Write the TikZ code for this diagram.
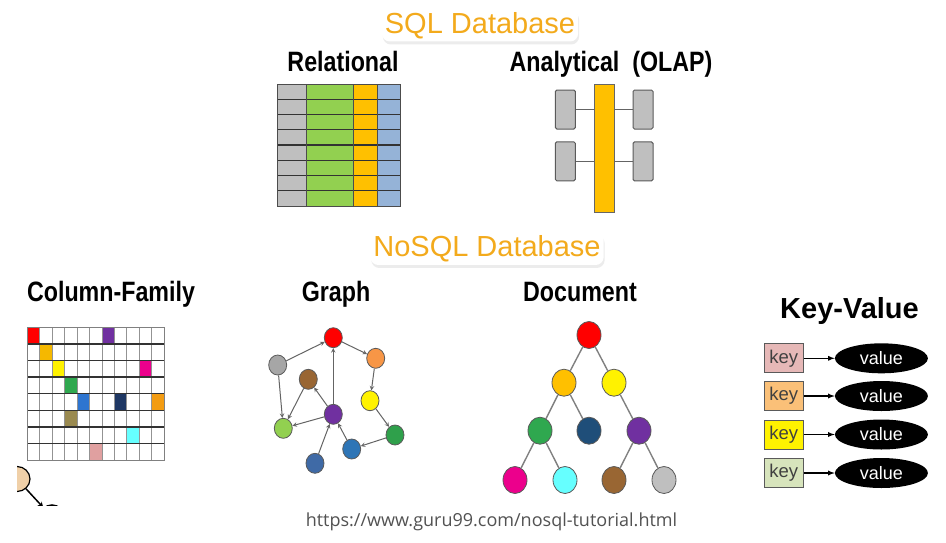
\documentclass[tikz,border=0pt]{standalone}
\usepackage{fontspec}
\setmainfont{Liberation Sans}
\newfontfamily\urlfont{Open Sans}
\usepackage{tikz}
\usetikzlibrary{shapes.geometric, arrows, positioning, shadows}
\usepackage{xcolor}
\definecolor{titleorange}{RGB}{243, 170, 28}
\definecolor{relgray}{RGB}{191, 191, 191}
\definecolor{relgreen}{RGB}{146, 208, 80}
\definecolor{relorange}{RGB}{255, 192, 0}
\definecolor{relblue}{RGB}{149, 179, 215}
\definecolor{edgegray}{RGB}{100, 100, 100}
\definecolor{nodeline}{RGB}{90, 90, 90}
\definecolor{cfpurple}{RGB}{112, 48, 160}
\definecolor{cforange}{RGB}{245, 184, 0}
\definecolor{cfgreen}{RGB}{47, 168, 79}
\definecolor{cfblue}{RGB}{46, 117, 208}
\definecolor{cfnavy}{RGB}{31, 56, 100}
\definecolor{cfamber}{RGB}{243, 156, 18}
\definecolor{cfolive}{RGB}{154, 138, 80}
\definecolor{cfcyan}{RGB}{102, 255, 255}
\definecolor{cfpink}{RGB}{224, 160, 160}
\definecolor{grorange}{RGB}{247, 150, 70}
\definecolor{grgray}{RGB}{166, 166, 166}
\definecolor{grbrown}{RGB}{153, 102, 51}
\definecolor{grlime}{RGB}{146, 208, 80}
\definecolor{grgreen}{RGB}{47, 160, 75}
\definecolor{grblue}{RGB}{46, 117, 182}
\definecolor{grsteel}{RGB}{63, 106, 166}
\definecolor{docnavy}{RGB}{31, 78, 121}
\definecolor{keypink}{RGB}{230, 184, 183}
\definecolor{keyorange}{RGB}{250, 192, 120}
\definecolor{keygreen}{RGB}{215, 228, 188}
\definecolor{skintan}{RGB}{240, 208, 168}

\begin{document}
\begin{tikzpicture}[x=1pt, y=-1pt]
    \tikzstyle{banner} = [font=\fontsize{29}{31}\selectfont, text=titleorange, fill=white, rounded corners=8pt, inner sep=3pt, anchor=base, drop shadow={opacity=0.15, shadow xshift=1pt, shadow yshift=-3pt}]
    \tikzstyle{heading} = [font=\fontsize{28}{30}\selectfont\bfseries, xscale=0.83, anchor=base, inner sep=0pt]
    \tikzstyle{gnode} = [ellipse, draw=nodeline, line width=0.8pt, minimum width=18pt, minimum height=20pt, inner sep=0pt]
    \tikzstyle{dnode} = [ellipse, draw=nodeline, line width=0.8pt, minimum width=24pt, minimum height=27pt, inner sep=0pt]
    \tikzstyle{garrow} = [draw=edgegray, line width=1pt, ->, >=stealth]
    \tikzstyle{dline} = [draw=gray, line width=1.4pt]
    \tikzstyle{keybox} = [rectangle, draw=nodeline, line width=1pt, minimum width=39pt, minimum height=29pt, inner sep=0pt, text=black!75, font=\fontsize{18.5}{19}\selectfont]
    \tikzstyle{valblob} = [ellipse, fill=black, minimum width=93pt, minimum height=30pt, inner sep=0pt, text=white, font=\fontsize{18}{19}\selectfont]
    \tikzstyle{kvarrow} = [line width=1.3pt, ->, >=latex]
    \tikzstyle{olapbox} = [rectangle, rounded corners=1.5pt, draw=nodeline, fill=relgray, line width=1pt, minimum width=20pt, minimum height=39pt, inner sep=0pt]

    \useasboundingbox (0,0) rectangle (946,542);
    \fill[white] (0,0) rectangle (946,542);

    % titles
    \node (sqltitle) [banner] at (480,33) {SQL Database};
    \node (nosqltitle) [banner] at (487,256.5) {NoSQL Database};
    \node (reltitle) [heading] at (343,71.7) {Relational};
    \node (olaptitle) [heading] at (611,71.7) {Analytical\ \ (OLAP)};
    \node (cftitle) [heading] at (111,301) {Column-Family};
    \node (graphtitle) [heading] at (336,301) {Graph};
    \node (doctitle) [heading] at (580,301) {Document};
    \node (kvtitle) [font=\fontsize{29}{31}\selectfont\bfseries, anchor=base, inner sep=0pt] at (849.5,318) {Key-Value};

    % relational table
    \fill[relgray] (277,84) rectangle (306,206);
    \fill[relgreen] (306,84) rectangle (353,206);
    \fill[relorange] (353,84) rectangle (377,206);
    \fill[relblue] (377,84) rectangle (400,206);
    \foreach \i in {1,...,7}
        \draw[black!80, line width=1.1pt] (277,{84+\i*15.25}) -- (400,{84+\i*15.25});
    \foreach \x in {306,353,377}
        \draw[black!70, line width=1pt] (\x,84) -- (\x,206);
    \draw[black!70, line width=1pt] (277,84) rectangle (400,206);

    % olap
    \node (bar) [rectangle, draw=black!60, fill=relorange, line width=1pt, minimum width=20pt, minimum height=128pt, inner sep=0pt] at (604,148) {};
    \node (lbox1) [olapbox] at (565.3,109.5) {};
    \node (lbox2) [olapbox] at (565.3,161.3) {};
    \node (rbox1) [olapbox] at (643,109.5) {};
    \node (rbox2) [olapbox] at (643,161.3) {};
    \draw[edgegray, line width=1pt] (lbox1.east) -- (lbox1.east -| bar.west);
    \draw[edgegray, line width=1pt] (lbox2.east) -- (lbox2.east -| bar.west);
    \draw[edgegray, line width=1pt] (rbox1.west) -- (rbox1.west -| bar.east);
    \draw[edgegray, line width=1pt] (rbox2.west) -- (rbox2.west -| bar.east);

    % column family grid
    \foreach \r/\c/\col in {0/0/red, 0/6/cfpurple, 1/1/cforange, 2/2/yellow, 2/9/magenta, 3/3/cfgreen, 4/4/cfblue, 4/7/cfnavy, 4/10/cfamber, 5/3/cfolive, 6/8/cfcyan, 7/5/cfpink}
        \fill[\col] ({27.3+\c*12.45},{327.3+\r*16.6}) rectangle ++(12.45,16.6);
    \foreach \c in {1,...,10}
        \draw[gray!85, line width=0.9pt] ({27.3+\c*12.45},327.3) -- ({27.3+\c*12.45},460.1);
    \foreach \r in {1,...,7}
        \draw[black!80, line width=1.3pt] (27.3,{327.3+\r*16.6}) -- (164.3,{327.3+\r*16.6});
    \draw[gray, line width=1.2pt] (27.3,327.3) rectangle (164.3,460.1);

    % cut-off figure at the lower left
    \begin{scope}
        \clip (17,440) rectangle (90,505);
        \node (tan) [ellipse, draw=black, fill=skintan, line width=1.2pt, minimum width=26pt, minimum height=25pt] at (17,479) {};
        \node (nextnode) [circle, draw=black, line width=1.5pt, minimum size=24pt] at (52,517) {};
        \draw[line width=1.5pt, ->, >=stealth] (tan) -- (nextnode);
    \end{scope}

    % graph
    \node (gred) [gnode, fill=red] at (333.3,337.7) {};
    \node (gorange) [gnode, fill=grorange] at (375.7,358.3) {};
    \node (ggray) [gnode, fill=grgray] at (277.7,365) {};
    \node (gbrown) [gnode, fill=grbrown] at (308.3,379.3) {};
    \node (gyellow) [gnode, fill=yellow] at (370,400.7) {};
    \node (gpurple) [gnode, fill=cfpurple] at (333.3,414.3) {};
    \node (glime) [gnode, fill=grlime] at (283.3,428.3) {};
    \node (ggreen) [gnode, fill=grgreen] at (395,435) {};
    \node (gblue) [gnode, fill=grblue] at (351.7,449) {};
    \node (gsteel) [gnode, fill=grsteel] at (315,463.3) {};

    \draw [garrow] (ggray) -- (gred);
    \draw [garrow] (gred) -- (gorange);
    \draw [garrow] (gorange) -- (gyellow);
    \draw [garrow] (gyellow) -- (ggreen);
    \draw [garrow] (ggreen) -- (gblue);
    \draw [garrow] (gblue) -- (gpurple);
    \draw [garrow] (gsteel) -- (gpurple);
    \draw [garrow] (gpurple) -- (gred);
    \draw [garrow] (gpurple) -- (gbrown);
    \draw [garrow] (gpurple) -- (glime);
    \draw [garrow] (gbrown) -- (glime);
    \draw [garrow] (ggray) -- (glime);

    % document tree
    \node (dred) [dnode, fill=red] at (589,335) {};
    \node (dorange) [dnode, fill=relorange] at (564,382.7) {};
    \node (dyellow) [dnode, fill=yellow] at (614,382.7) {};
    \node (dgreen) [dnode, fill=cfgreen] at (540,430.7) {};
    \node (dnavy) [dnode, fill=docnavy] at (589,430.7) {};
    \node (dpurple) [dnode, fill=cfpurple] at (639,430.7) {};
    \node (dmagenta) [dnode, fill=magenta] at (515,480) {};
    \node (dcyan) [dnode, fill=cfcyan] at (565,480) {};
    \node (dbrown) [dnode, fill=grbrown] at (614,480) {};
    \node (dgray) [dnode, fill=relgray] at (664,480) {};

    \draw [dline] (dred) -- (dorange);
    \draw [dline] (dred) -- (dyellow);
    \draw [dline] (dorange) -- (dgreen);
    \draw [dline] (dorange) -- (dnavy);
    \draw [dline] (dyellow) -- (dpurple);
    \draw [dline] (dgreen) -- (dmagenta);
    \draw [dline] (dgreen) -- (dcyan);
    \draw [dline] (dpurple) -- (dbrown);
    \draw [dline] (dpurple) -- (dgray);

    % key-value
    \node (key1) [keybox, fill=keypink] at (783.7,358.3) {key};
    \node (key2) [keybox, fill=keyorange] at (783.7,396) {key};
    \node (key3) [keybox, fill=yellow] at (783.7,434.5) {key};
    \node (key4) [keybox, fill=keygreen] at (783.7,473) {key};
    \node (val1) [valblob, right=31pt of key1] {value};
    \node (val2) [valblob, right=31pt of key2] {value};
    \node (val3) [valblob, right=31pt of key3] {value};
    \node (val4) [valblob, right=31pt of key4] {value};

    \draw [kvarrow] (key1) -- (val1);
    \draw [kvarrow] (key2) -- (val2);
    \draw [kvarrow] (key3) -- (val3);
    \draw [kvarrow] (key4) -- (val4);

    % source
    \node (source) [font=\urlfont\fontsize{18}{20}\selectfont, text=black!68, anchor=base, inner sep=0pt] at (491.5,526) {https://www.guru99.com/nosql-tutorial.html};
\end{tikzpicture}
\end{document}
